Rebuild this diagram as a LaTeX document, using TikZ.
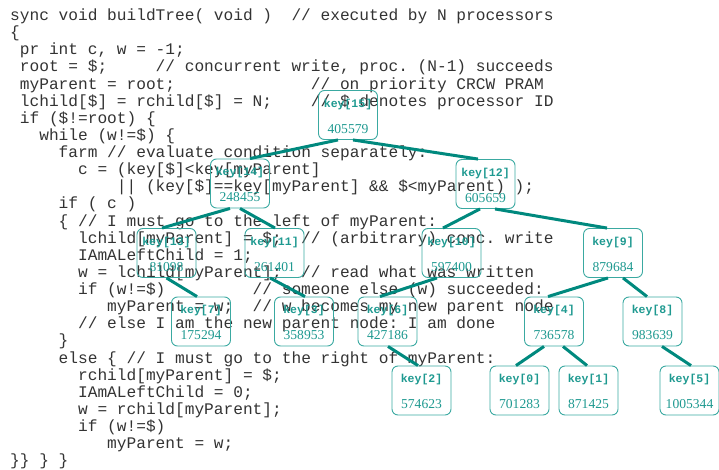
\documentclass[tikz,border=0pt]{standalone}
\usepackage{fontspec}
\setmainfont{Liberation Serif}
\setmonofont{Liberation Mono}
\frenchspacing
\definecolor{codegray}{HTML}{333333}
\definecolor{edgeteal}{HTML}{00897E}
\definecolor{boxteal}{HTML}{3AA9A1}
\definecolor{labteal}{HTML}{1E9990}

% column width of the listing font and line pitch
\newcommand\colw{9.7}
\newcommand\rowh{17.13}
% \codeline{name}{column}{row}{text}
\newcommand\codeline[4]{%
  \node[codetext] (#1) at ({10+#2*\colw},{20.5+(#3-1)*\rowh}) {#4};}
% \treenode{name}{x}{y}{index}{key value}
\newcommand\treenode[5]{%
  \node[tnode] (#1) at (#2,#3) {};
  \node[keylbl] (#1k) at ([yshift=-17pt]#1.north) {key[#4]};
  \node[vallbl] (#1v) at ([yshift=-43pt]#1.north) {#5};}

\tikzset{
  codetext/.style={anchor=base west, inner sep=0pt, text=codegray,
    font=\fontsize{16.17}{17}\ttfamily},
  tnode/.style={draw=boxteal, line width=0.9pt, rounded corners=6pt,
    minimum width=59pt, minimum height=49pt, inner sep=0pt},
  keylbl/.style={anchor=base, inner sep=0pt, text=labteal,
    font=\fontsize{11.5}{12}\ttfamily\bfseries},
  vallbl/.style={anchor=base, inner sep=0pt, text=labteal,
    font=\fontsize{13.6}{14}\rmfamily},
  edge/.style={draw=edgeteal, line width=3pt},
}

\begin{document}
\begin{tikzpicture}[x=1pt,y=-1pt]
\useasboundingbox (0,0) rectangle (719,470);

% program listing
\codeline{l1}{0}{1}{sync void buildTree( void )}
\codeline{l1c}{29}{1}{// executed by N processors}
\codeline{l2}{0}{2}{\{}
\codeline{l3}{1}{3}{pr int c, w = -1;}
\codeline{l4}{1}{4}{root = \$;}
\codeline{l4c}{15}{4}{// concurrent write, proc. (N-1) succeeds}
\codeline{l5}{1}{5}{myParent = root;}
\codeline{l5c}{31}{5}{// on priority CRCW PRAM}
\codeline{l6}{1}{6}{lchild[\$] = rchild[\$] = N;}
\codeline{l6c}{31}{6}{// \$ denotes processor ID}
\codeline{l7}{1}{7}{if (\$!=root) \{}
\codeline{l8}{3}{8}{while (w!=\$) \{}
\codeline{l9}{5}{9}{farm // evaluate condition separately:}
\codeline{l10}{7}{10}{c = (key[\$]<key[myParent]}
\codeline{l11}{11}{11}{|| (key[\$]==key[myParent] \&\& \$<myParent) );}
\codeline{l12}{5}{12}{if ( c )}
\codeline{l13}{5}{13}{\{ // I must go to the left of myParent:}
\codeline{l14}{7}{14}{lchild[myParent] = \$;}
\codeline{l14c}{30}{14}{// (arbitrary) conc. write}
\codeline{l15}{7}{15}{IAmALeftChild = 1;}
\codeline{l16}{7}{16}{w = lchild[myParent];}
\codeline{l16c}{30}{16}{// read what was written}
\codeline{l17}{7}{17}{if (w!=\$)}
\codeline{l17c}{25}{17}{// someone else (w) succeeded:}
\codeline{l18}{10}{18}{myParent = w;}
\codeline{l18c}{25}{18}{// w becomes my new parent node}
\codeline{l19}{7}{19}{// else I am the new parent node: I am done}
\codeline{l20}{5}{20}{\}}
\codeline{l21}{5}{21}{else \{ // I must go to the right of myParent:}
\codeline{l22}{7}{22}{rchild[myParent] = \$;}
\codeline{l23}{7}{23}{IAmALeftChild = 0;}
\codeline{l24}{7}{24}{w = rchild[myParent];}
\codeline{l25}{7}{25}{if (w!=\$)}
\codeline{l26}{10}{26}{myParent = w;}
\codeline{l27}{0}{27}{\}\} \} \}}

% search tree
\treenode{k15}{348}{115}{15}{405579}
\treenode{k14}{240}{183.5}{14}{248455}
\treenode{k12}{485.5}{184}{12}{605659}
\treenode{k13}{166.5}{253}{13}{81098}
\treenode{k11}{274.5}{253}{11}{261401}
\treenode{k10}{451.5}{253}{10}{597400}
\treenode{k9}{613}{253}{9}{879684}
\treenode{k7}{201}{321.5}{7}{175294}
\treenode{k3}{304}{321.5}{3}{358953}
\treenode{k6}{387.5}{321.5}{6}{427186}
\treenode{k4}{554}{321.5}{4}{736578}
\treenode{k8}{652.5}{321.5}{8}{983639}
\treenode{k2}{421.5}{390.5}{2}{574623}
\treenode{k0}{519.5}{390.5}{0}{701283}
\treenode{k1}{588.5}{390.5}{1}{871425}
\treenode{k5}{689.5}{390.5}{5}{1005344}

% parent-child links
\draw[edge] ([xshift=-10pt]k15.south) -- ([xshift=10pt]k14.north);
\draw[edge] ([xshift=5pt]k15.south) -- ([xshift=-7.5pt]k12.north);
\draw[edge] ([xshift=-10pt]k14.south) -- ([xshift=-4.5pt]k13.north);
\draw[edge] ([xshift=0pt]k14.south) -- ([xshift=0.5pt]k11.north);
\draw[edge] ([xshift=-5.5pt]k12.south) -- ([xshift=-8.5pt]k10.north);
\draw[edge] ([xshift=9.5pt]k12.south) -- ([xshift=-6pt]k9.north);
\draw[edge] ([xshift=0pt]k13.south) -- ([xshift=-4pt]k7.north);
\draw[edge] ([xshift=-4.5pt]k11.south) -- ([xshift=1pt]k3.north);
\draw[edge] ([xshift=-14.5pt]k10.south) -- ([xshift=-7.5pt]k6.north);
\draw[edge] ([xshift=-5pt]k9.south) -- ([xshift=-6pt]k4.north);
\draw[edge] ([xshift=10pt]k9.south) -- ([xshift=-5.5pt]k8.north);
\draw[edge] ([xshift=0.5pt]k6.south) -- ([xshift=-3.5pt]k2.north);
\draw[edge] ([xshift=-10pt]k4.south) -- ([xshift=-3.5pt]k0.north);
\draw[edge] ([xshift=9pt]k4.south) -- ([xshift=-1.5pt]k1.north);
\draw[edge] ([xshift=9.5pt]k8.south) -- ([xshift=1.5pt]k5.north);
\end{tikzpicture}
\end{document}
